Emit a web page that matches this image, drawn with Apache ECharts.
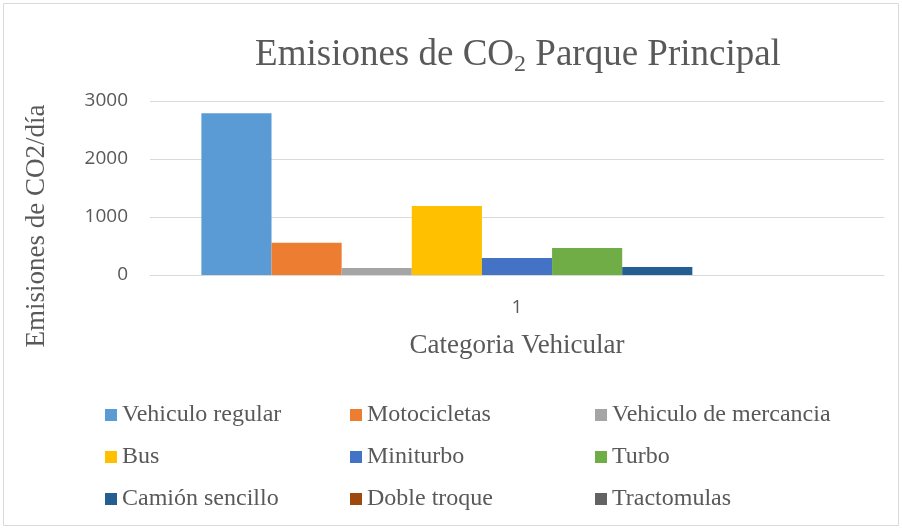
<!DOCTYPE html>
<html lang="es">
<head>
    <meta charset="UTF-8">
    <title>Emisiones de CO2 Parque Principal</title>
    <script src="https://cdn.jsdelivr.net/npm/echarts@6/dist/echarts.min.js"></script>
    <style>
        html, body { margin: 0; padding: 0; background: #fff; }
    </style>
</head>
<body>
    <div id="main" style="width:902px;height:529px;"></div>

    <script>
// datos de la grafica
var categorias = ['1'];
var series = ['Vehiculo regular', 'Motocicletas', 'Vehiculo de mercancia', 'Bus', 'Miniturbo', 'Turbo', 'Camión sencillo', 'Doble troque', 'Tractomulas'];
var valores = [2790, 555, 120, 1190, 295, 465, 140, 0, 0];
var colores = ['#5B9BD5', '#ED7D31', '#A5A5A5', '#FFC000', '#4472C4', '#70AD47', '#255E91', '#9E480E', '#636363'];
var yTicks = [0, 1000, 2000, 3000];

var serif = '"Liberation Serif", "DejaVu Serif", serif';
var sans = '"Open Sans", "Liberation Sans", sans-serif';

var myChart = echarts.init(document.getElementById('main'));

// leyenda en 3 columnas
var columnas = [100, 345, 590];
var leyendas = columnas.map(function (x, c) {
    return {
        orient: 'vertical',
        left: x,
        top: 398,
        itemWidth: 12,
        itemHeight: 12,
        itemGap: 18,
        icon: 'rect',
        data: [series[c], series[c + 3], series[c + 6]],
        textStyle: { fontFamily: serif, fontSize: 24, color: '#595959' }
    };
});

myChart.setOption({
    animation: false,
    title: {
        text: 'Emisiones de CO{sub|2} Parque Principal',
        left: 513,
        textAlign: 'center',
        top: 28,
        textStyle: {
            fontFamily: serif,
            fontSize: 37,
            lineHeight: 44,
            fontWeight: 'normal',
            color: '#595959',
            rich: {
                sub: { fontFamily: serif, fontSize: 24, lineHeight: 14, verticalAlign: 'bottom', color: '#595959' }
            }
        }
    },
    graphic: [{
        type: 'rect',
        shape: { x: 3.5, y: 3.5, width: 895, height: 522 },
        style: { fill: 'none', stroke: '#D9D9D9', lineWidth: 1 }
    }],
    legend: leyendas,
    grid: { left: 150, right: 18, top: 101, height: 174 },
    xAxis: {
        type: 'category',
        data: categorias,
        name: 'Categoria Vehicular',
        nameLocation: 'middle',
        nameGap: 57,
        nameTextStyle: { fontFamily: serif, fontSize: 27, color: '#595959' },
        axisLine: { lineStyle: { color: '#D9D9D9', width: 1 } },
        axisTick: { show: false },
        axisLabel: { fontFamily: sans, fontSize: 19, color: '#595959', margin: 23 }
    },
    yAxis: {
        type: 'value',
        min: yTicks[0],
        max: yTicks[yTicks.length - 1],
        interval: 1000,
        name: 'Emisiones de CO2/día',
        nameLocation: 'middle',
        nameRotate: 90,
        nameGap: 100,
        nameTextStyle: { fontFamily: serif, fontSize: 27, color: '#595959', padding: [0, 76, 0, 0] },
        axisLine: { show: false },
        axisTick: { show: false },
        axisLabel: {
            fontFamily: sans, fontSize: 19, color: '#595959', margin: 22,
            formatter: function (v) { return String(v); }
        },
        splitLine: { lineStyle: { color: '#D9D9D9', width: 1 } }
    },
    series: series.map(function (nombre, i) {
        return {
            name: nombre,
            type: 'bar',
            data: [valores[i]],
            barGap: '0%',
            barCategoryGap: '14%',
            itemStyle: { color: colores[i] }
        };
    })
});
    </script>
</body>
</html>
